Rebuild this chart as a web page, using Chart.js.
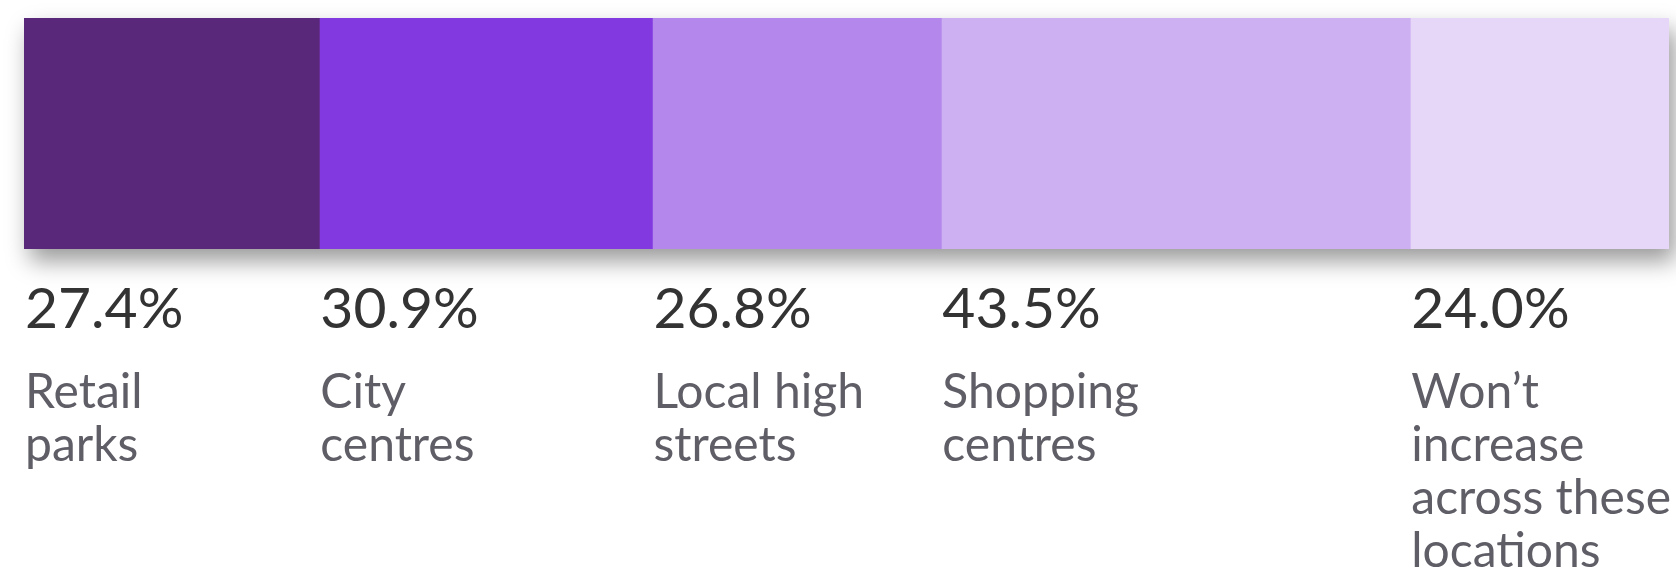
<!DOCTYPE html>
<html>
<head>
<meta charset="utf-8">
<script src="https://cdn.jsdelivr.net/npm/chart.js@4"></script>
<style>
  html, body { margin: 0; padding: 0; background: #fff; }
  #wrap { width: 1676px; height: 571px; position: relative; }
</style>
</head>
<body>
<div id="wrap"><canvas id="chart"></canvas></div>
<script>
// Data
const locations = ['Retail parks', 'City centres', 'Local high streets', 'Shopping centres', 'Won\u2019t increase across these locations'];
const shares = [27.4, 30.9, 26.8, 43.5, 24.0];
const labelLines = [
    ['Retail', 'parks'],
    ['City', 'centres'],
    ['Local high', 'streets'],
    ['Shopping', 'centres'],
    ['Won\u2019t', 'increase', 'across these', 'locations']
];
const colors = ['#5a287a', '#8239e0', '#b387ec', '#cdb0f2', '#e6d6f7'];

const total = shares.reduce((a, b) => a + b, 0);

// soft shadow behind the whole bar
const barShadow = {
    id: 'barShadow',
    beforeDatasetsDraw(chart) {
        const first = chart.getDatasetMeta(0).data[0];
        const xs = chart.scales.x;
        const ctx = chart.ctx;
        const h = first.height;
        const x0 = xs.getPixelForValue(0);
        const x1 = xs.getPixelForValue(total);
        ctx.save();
        ctx.shadowColor = 'rgba(0, 0, 0, 0.4)';
        ctx.shadowBlur = 22;
        ctx.shadowOffsetX = 6;
        ctx.shadowOffsetY = 12;
        ctx.fillStyle = '#fff';
        ctx.fillRect(x0, first.y - h / 2, x1 - x0, h);
        ctx.restore();
    }
};

// value + name under each segment
const segmentLabels = {
    id: 'segmentLabels',
    afterDatasetsDraw(chart) {
        const ctx = chart.ctx;
        const bottom = chart.chartArea.bottom;
        ctx.save();
        ctx.textAlign = 'left';
        ctx.textBaseline = 'alphabetic';
        shares.forEach((v, i) => {
            const bar = chart.getDatasetMeta(i).data[0];
            const left = Math.min(bar.base, bar.x) + 1;
            ctx.fillStyle = '#333333';
            ctx.font = '400 57px Lato';
            ctx.fillText(v.toFixed(1) + '%', left, bottom + 79);
            ctx.fillStyle = '#5f5d66';
            ctx.font = '400 48px Lato';
            labelLines[i].forEach((line, j) => {
                ctx.fillText(line, left, bottom + 159 + j * 53);
            });
        });
        ctx.restore();
    }
};

new Chart(document.getElementById('chart'), {
    type: 'bar',
    data: {
        labels: [''],
        datasets: locations.map((name, i) => ({
            label: name,
            data: [shares[i]],
            backgroundColor: colors[i],
            borderWidth: 0,
            barPercentage: 1,
            categoryPercentage: 1
        }))
    },
    options: {
        indexAxis: 'y',
        responsive: true,
        maintainAspectRatio: false,
        animation: false,
        layout: { padding: { left: 24, right: 7, top: 18, bottom: 322 } },
        plugins: { legend: { display: false }, tooltip: { enabled: false } },
        scales: {
            x: { stacked: true, min: 0, max: total, display: false },
            y: { stacked: true, display: false }
        }
    },
    plugins: [barShadow, segmentLabels]
});
</script>
</body>
</html>
